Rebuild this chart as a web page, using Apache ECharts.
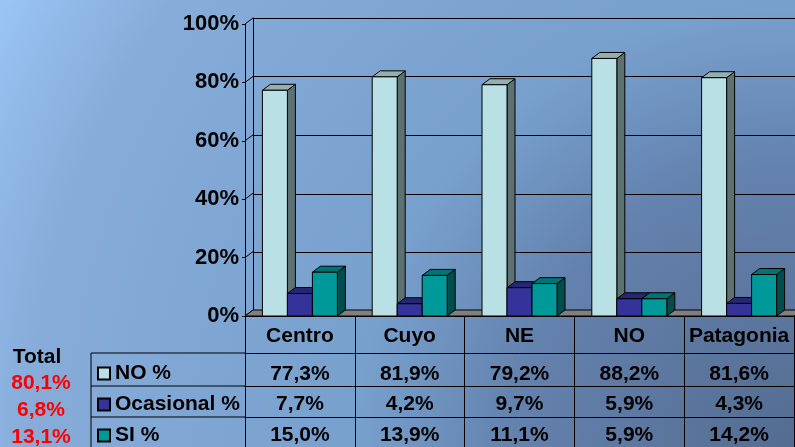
<!DOCTYPE html>
<html>
<head>
<meta charset="utf-8">
<script src="https://cdn.jsdelivr.net/npm/echarts@6/dist/echarts.min.js"></script>
<style>
  html, body { margin: 0; padding: 0; }
  #chart {
    width: 795px; height: 447px;
    background: radial-gradient(circle 912px at 100% 100%, #546c90 0%, #6482ae 31%, #78a0cd 48%, #87acda 84%, #9ac5f5 100%);
  }
</style>
</head>
<body>
<div id="chart"></div>
<script>
// datos por región
var regions = ['Centro', 'Cuyo', 'NE', 'NO', 'Patagonia'];
var seriesNames = ['NO %', 'Ocasional %', 'SI %'];
var noPct = [77.3, 81.9, 79.2, 88.2, 81.6];
var ocasionalPct = [7.7, 4.2, 9.7, 5.9, 4.3];
var siPct = [15.0, 13.9, 11.1, 5.9, 14.2];
var totalLabel = 'Total';
var totals = [80.1, 6.8, 13.1];
var yTicks = [0, 20, 40, 60, 80, 100];

var rows = [noPct, ocasionalPct, siPct];
var FONT = "'Liberation Sans', Arial, sans-serif";
var faceColors = ['#b9e1e5', '#333399', '#009999'];
var topColors = ['#93afb0', '#262673', '#007373'];
var sideColors = ['#5d7173', '#1a1a4d', '#004d4d'];
var DX = 8, DY = -6, BW = 25;

function fmt(v) {
  return v.toFixed(1).replace('.', ',') + '%';
}

function barRenderer(k) {
  return function (params, api) {
    var i = api.value(0);
    var base = api.coord([i, 0]);
    var top = api.coord([i, api.value(1)]);
    var x0 = base[0] - BW * 1.5 + k * BW;
    var yb = base[1], yt = top[1];
    var line = { stroke: '#000', lineWidth: 1 };
    return {
      type: 'group',
      children: [
        { type: 'polygon', shape: { points: [[x0 + BW, yt], [x0 + BW + DX, yt + DY], [x0 + BW + DX, yb + DY], [x0 + BW, yb]] },
          style: Object.assign({ fill: sideColors[k] }, line) },
        { type: 'polygon', shape: { points: [[x0, yt], [x0 + DX, yt + DY], [x0 + BW + DX, yt + DY], [x0 + BW, yt]] },
          style: Object.assign({ fill: topColors[k] }, line) },
        { type: 'rect', shape: { x: x0, y: yt, width: BW, height: yb - yt },
          style: Object.assign({ fill: faceColors[k] }, line) }
      ]
    };
  };
}

// pared lateral y piso
function wallRenderer(params, api) {
  var cs = params.coordSys;
  var v = api.value(1);
  var y = api.coord([0, v])[1];
  var children = [
    { type: 'line', shape: { x1: cs.x, y1: y, x2: cs.x + DX, y2: y + DY }, style: { stroke: '#000', lineWidth: 1 } }
  ];
  if (v === 0) {
    children.push({
      type: 'polygon',
      shape: { points: [[cs.x, y], [cs.x + cs.width, y], [cs.x + cs.width + DX, y + DY], [cs.x + DX, y + DY]] },
      style: { fill: '#808080', stroke: '#000', lineWidth: 1 }
    });
  }
  return { type: 'group', children: children };
}

var labelStyle = { fontSize: 21, fontWeight: 'bold', color: '#000', fontFamily: FONT };

var xAxes = [{
  gridIndex: 0,
  type: 'category',
  data: regions,
  position: 'bottom',
  axisLine: { lineStyle: { color: '#000', width: 1 } },
  axisTick: { show: true, length: 131, lineStyle: { color: '#000', width: 1 } },
  axisLabel: Object.assign({ interval: 0, margin: 20, verticalAlign: 'middle' }, labelStyle)
}];
var rowOffsets = [37, 70, 101];
var rowMargins = [21, 18, 18];
rows.forEach(function (row, r) {
  xAxes.push({
    gridIndex: 0,
    type: 'category',
    data: regions,
    position: 'bottom',
    offset: rowOffsets[r],
    axisLine: { lineStyle: { color: '#000', width: 1 } },
    axisTick: { show: false },
    axisLabel: Object.assign({
      interval: 0, margin: rowMargins[r], verticalAlign: 'middle',
      formatter: function (val, idx) { return fmt(row[idx]); }
    }, labelStyle)
  });
});
xAxes.push({ gridIndex: 1, type: 'category', data: regions, show: false });

var legendRows = [353, 386, 417];
var graphics = [
  { type: 'line', shape: { x1: 91, y1: 353, x2: 91, y2: 447 }, style: { stroke: '#000', lineWidth: 1 } }
];
legendRows.forEach(function (y) {
  graphics.push({ type: 'line', shape: { x1: 91, y1: y, x2: 245, y2: y }, style: { stroke: '#000', lineWidth: 1 } });
});
graphics.push({ type: 'text', x: 37, y: 357, style: { text: totalLabel, fill: '#000', font: 'bold 21px ' + FONT, align: 'center', verticalAlign: 'middle' } });
totals.forEach(function (t, i) {
  graphics.push({ type: 'text', x: 41, y: 383 + i * 27, style: { text: fmt(t), fill: '#ff0000', font: 'bold 21px ' + FONT, align: 'center', verticalAlign: 'middle' } });
});

var seriesData = [noPct, ocasionalPct, siPct];
var series = [{
  type: 'custom',
  name: 'wall',
  xAxisIndex: 0,
  yAxisIndex: 0,
  renderItem: wallRenderer,
  data: yTicks.map(function (v) { return [0, v]; }),
  silent: true
}];
seriesData.forEach(function (vals, k) {
  series.push({
    type: 'custom',
    name: seriesNames[k],
    xAxisIndex: 0,
    yAxisIndex: 0,
    renderItem: barRenderer(k),
    itemStyle: { color: faceColors[k], borderColor: '#000', borderWidth: 1 },
    encode: { x: 0, y: 1 },
    data: vals.map(function (v, i) { return [i, v]; })
  });
});

var chart = echarts.init(document.getElementById('chart'));
chart.setOption({
  animation: false,
  backgroundColor: 'transparent',
  grid: [
    { left: 245, right: 1, top: 24, bottom: 131 },
    { left: 253, right: 0, top: 18, bottom: 136 }
  ],
  legend: {
    orient: 'vertical',
    left: 97,
    top: 363,
    padding: 0,
    itemWidth: 12,
    itemHeight: 12,
    itemGap: 10,
    icon: 'rect',
    selectedMode: false,
    data: seriesNames,
    textStyle: { fontSize: 21, fontWeight: 'bold', color: '#000', fontFamily: FONT }
  },
  xAxis: xAxes,
  yAxis: [{
    gridIndex: 0,
    type: 'value',
    min: 0, max: 100, interval: 20,
    axisLine: { show: true, lineStyle: { color: '#000', width: 1 } },
    axisTick: { show: true, length: 3, lineStyle: { color: '#000' } },
    splitLine: { show: false },
    axisLabel: { formatter: '{value}%', margin: 6, fontSize: 22, fontWeight: 'bold', color: '#000', fontFamily: FONT }
  }, {
    gridIndex: 1,
    type: 'value',
    min: 0, max: 100, interval: 20,
    axisLine: { show: true, lineStyle: { color: '#000', width: 1 } },
    axisTick: { show: false },
    axisLabel: { show: false },
    splitLine: { show: true, lineStyle: { color: '#000', width: 1 } }
  }],
  graphic: graphics,
  series: series
});
</script>
</body>
</html>
